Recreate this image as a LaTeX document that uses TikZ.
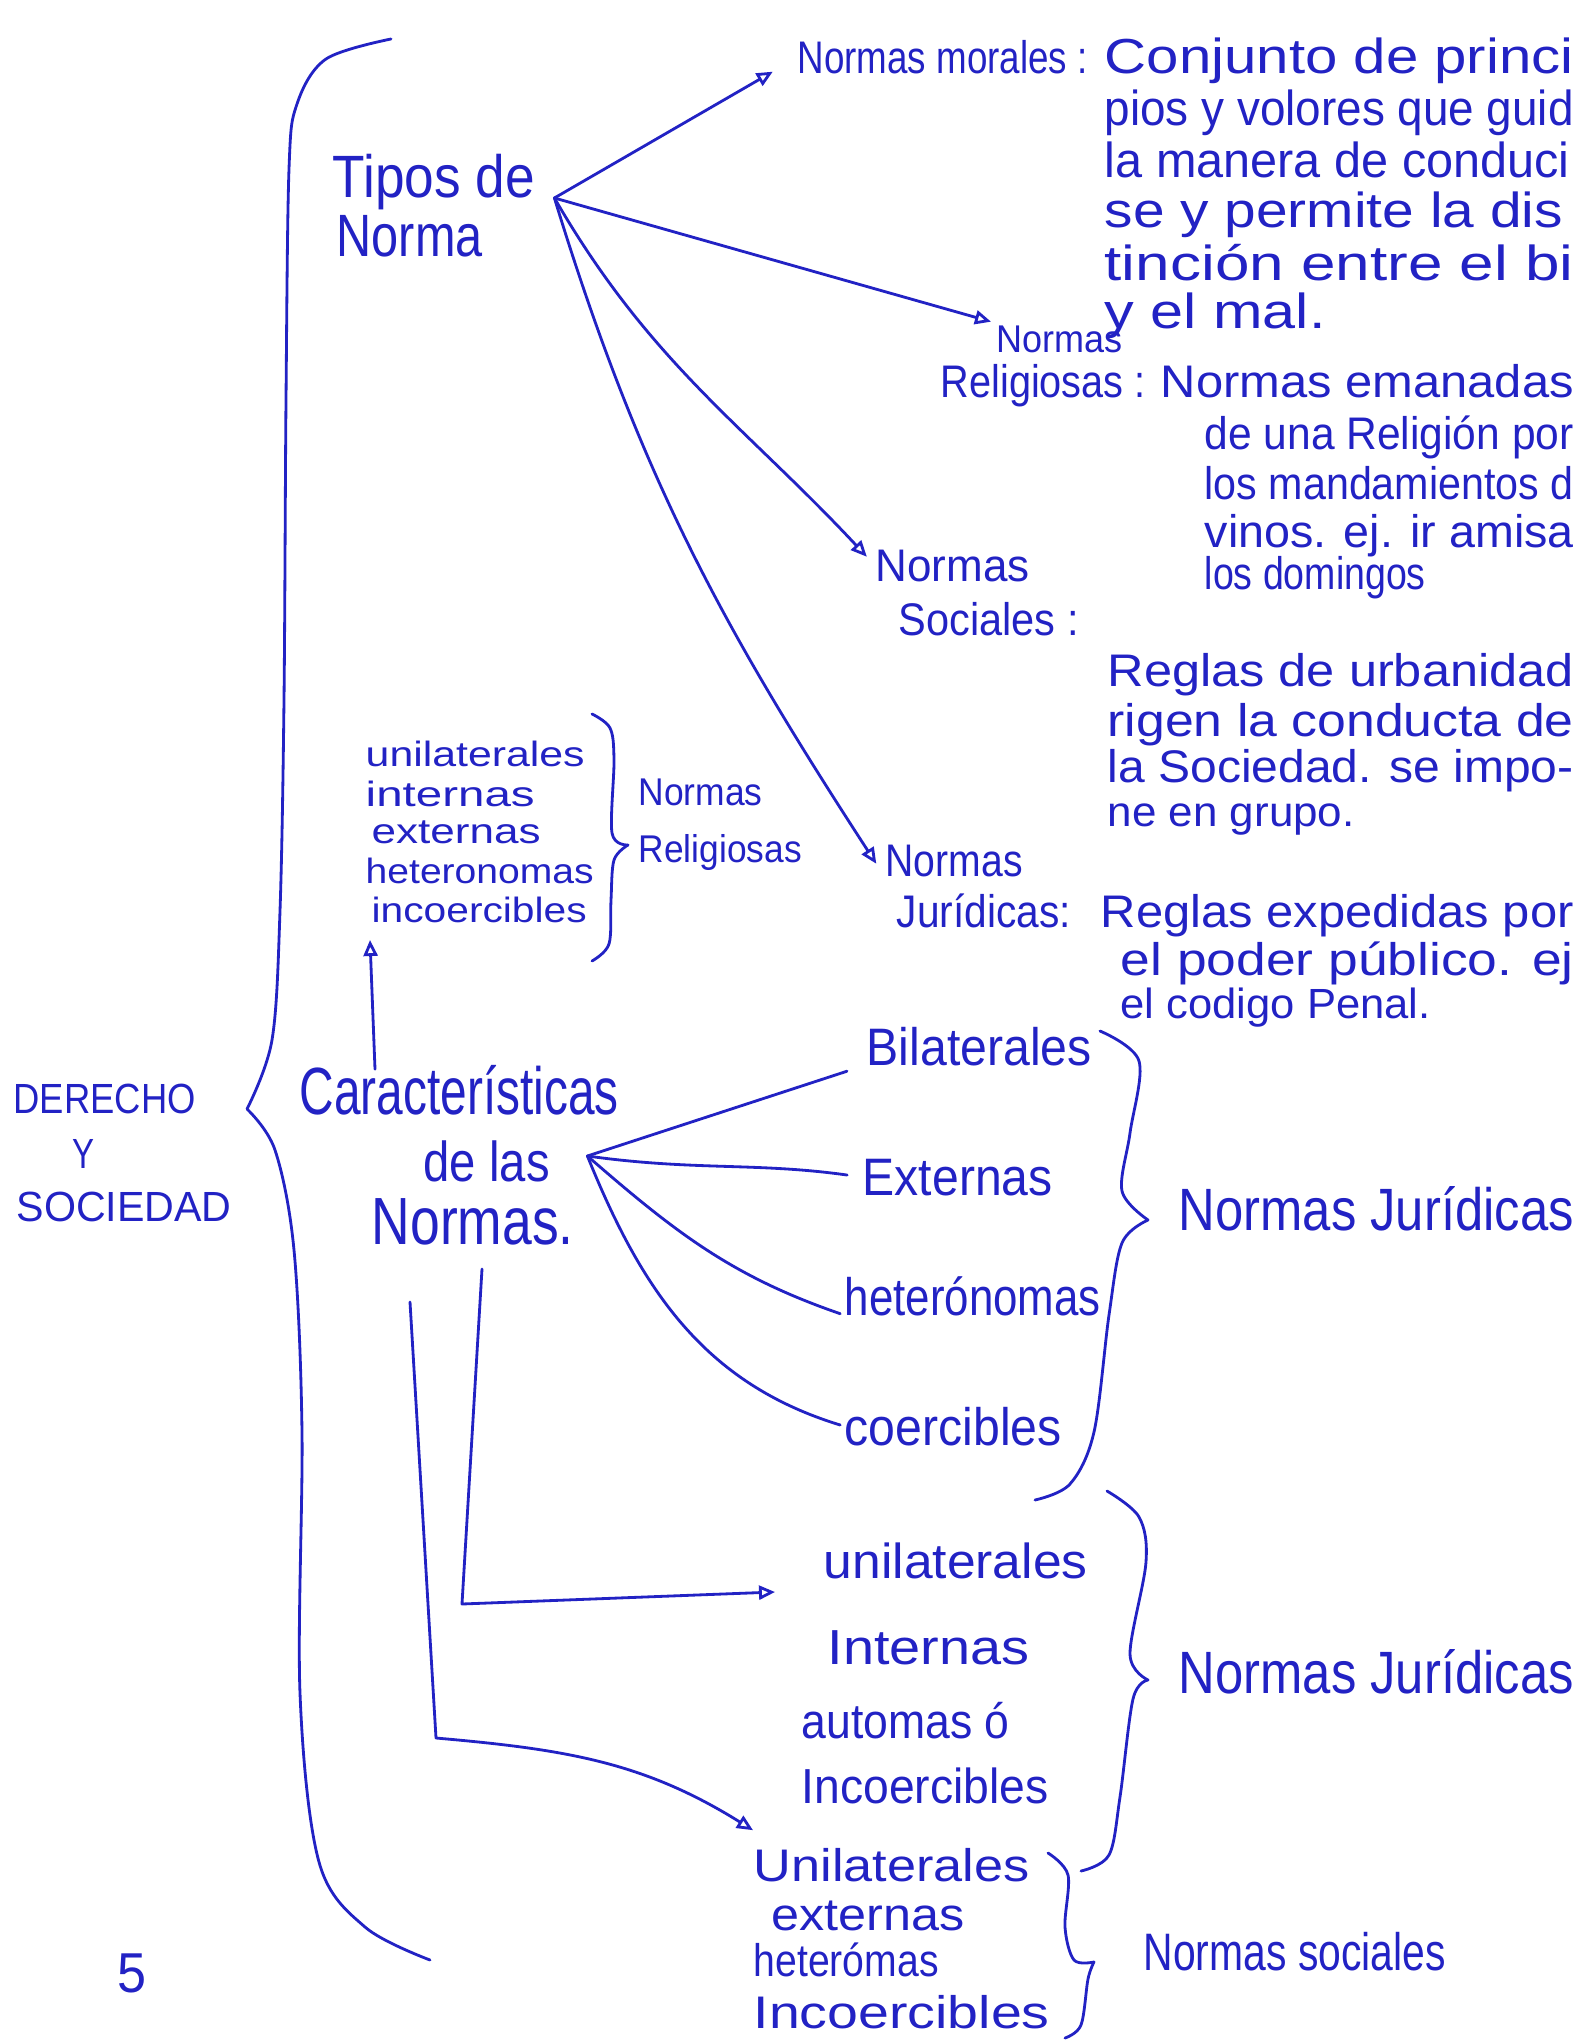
\documentclass[tikz,border=0pt]{standalone}
\usepackage{fontspec}
\setmainfont{Liberation Sans}
\usepackage{graphicx}
\usetikzlibrary{arrows.meta}
\definecolor{ink}{RGB}{34,34,196}
\newlength\pxu
\setlength\pxu{0.1mm}
\newcommand\hw[2]{\resizebox{#1\pxu}{\height}{#2}}
\newcommand\fsz[1]{\fontsize{#1}{#1}\selectfont}
\begin{document}
\begin{tikzpicture}[x=0.1mm,y=-0.1mm,
  t/.style={anchor=base west, inner sep=0pt, text=ink, font=\fsz{13}},
  ln/.style={draw=ink, line width=0.8pt, line cap=round, line join=round},
  arr/.style={ln, -{Triangle[open,length=1.6mm,width=1.4mm]}},
  brc/.style={ln, smooth, tension=0.55},
]
\fill[white] (0,0) rectangle (1573,2042);
\useasboundingbox (0,0) rectangle (1573,2042);

% title
\node[t,font=\fsz{12}] (d1) at (13,1113) {\hw{182}{DERECHO}};
\node[t,font=\fsz{12}] (d2) at (72,1168) {\hw{22}{Y}};
\node[t,font=\fsz{12}] (d3) at (16,1221) {\hw{215}{SOCIEDAD}};
\node[t,font=\fsz{16}] (five) at (117,1992) {\hw{29}{5}};

% big brace
\draw[brc] plot coordinates {(391,39) (326,59) (297,104) (289,169) (286,400) (284,700) (280,911) (272,1040) (247,1109)};
\draw[brc] plot coordinates {(247,1109) (275,1150) (294,1250) (302,1432) (300,1693) (319,1862) (365,1927) (430,1960)};

% Tipos de norma
\node[t,font=\fsz{17}] (tp1) at (332,198) {\hw{202}{Tipos de}};
\node[t,font=\fsz{17}] (tp2) at (336,256) {\hw{146}{Norma}};
\coordinate (th) at ([xshift=1.9mm]tp1.base east);

% morales
\node[t] (nm) at (797,74) {\hw{290}{Normas morales :}};
\node[t,font=\fsz{14}] (md1) at (1104,74) {\hw{469}{Conjunto de princi}};
\node[t,font=\fsz{14}] (md2) at (1104,126) {\hw{469}{pios y volores que guid}};
\node[t,font=\fsz{14}] (md3) at (1104,178) {\hw{465}{la manera de conduci}};
\node[t,font=\fsz{14}] (md4) at (1104,228) {\hw{458}{se y permite la dis}};
\node[t,font=\fsz{14}] (md5) at (1104,280) {\hw{469}{tinción entre el bi}};
\node[t,font=\fsz{14}] (md6) at (1104,328) {\hw{221}{y el mal.}};

% religiosas
\node[t,font=\fsz{11}] (nr1) at (996,352) {\hw{126}{Normas}};
\node[t] (nr2) at (940,397) {\hw{205}{Religiosas :}};
\node[t] (rd1) at (1160,397) {\hw{413}{Normas emanadas}};
\node[t] (rd2) at (1204,449) {\hw{369}{de una Religión por}};
\node[t] (rd3) at (1204,499) {\hw{369}{los mandamientos d}};
\node[t] (rd4) at (1204,547) {\hw{369}{vinos. ej. ir amisa}};
\node[t] (rd5) at (1204,589) {\hw{221}{los domingos}};

% sociales
\node[t] (ns1) at (875,581) {\hw{154}{Normas}};
\node[t] (ns2) at (898,635) {\hw{180}{Sociales :}};
\node[t] (sd1) at (1107,686) {\hw{466}{Reglas de urbanidad}};
\node[t] (sd2) at (1107,736) {\hw{466}{rigen la conducta de}};
\node[t] (sd3) at (1107,782) {\hw{466}{la Sociedad. se impo-}};
\node[t,font=\fsz{12}] (sd4) at (1107,826) {\hw{247}{ne en grupo.}};

% juridicas
\node[t] (nj1) at (885,876) {\hw{137}{Normas}};
\node[t] (nj2) at (896,927) {\hw{174}{Jurídicas:}};
\node[t] (jd1) at (1100,927) {\hw{473}{Reglas expedidas por}};
\node[t] (jd2) at (1120,975) {\hw{453}{el poder público. ej}};
\node[t,font=\fsz{12}] (jd3) at (1120,1018) {\hw{310}{el codigo Penal.}};

% connectors from Tipos de Norma
\draw[arr, shorten >=2.8mm] (th) -- (nm.west);
\draw[arr] (th) -- ([xshift=-0.5mm,yshift=0.3mm]nr1.north west);
\draw[arr, shorten >=1.2mm] (th) to[out=-60,in=133] (ns1.west);
\draw[arr, shorten >=1.6mm] (th) to[out=-73,in=123] (nj1.south west);

% religiosas characteristics
\node[t,font=\fsz{10}] (ri1) at (365,766) {\hw{219}{unilaterales}};
\node[t,font=\fsz{10}] (ri2) at (365,806) {\hw{169}{internas}};
\node[t,font=\fsz{10}] (ri3) at (371,843) {\hw{169}{externas}};
\node[t,font=\fsz{10}] (ri4) at (365,883) {\hw{228}{heteronomas}};
\node[t,font=\fsz{10}] (ri5) at (371,922) {\hw{215}{incoercibles}};
\node[t,font=\fsz{11}] (rn1) at (638,805) {\hw{124}{Normas}};
\node[t,font=\fsz{11}] (rn2) at (638,862) {\hw{163}{Religiosas}};
\draw[brc] plot coordinates {(592,714) (610,728) (614,760) (612,833) (628,845)};
\draw[brc] plot coordinates {(628,845) (614,860) (611,900) (609,944) (592,961)};

% Caracteristicas
\node[t,font=\fsz{19}] (ca1) at (299,1114) {\hw{319}{Características}};
\node[t,font=\fsz{16}] (ca2) at (423,1181) {\hw{126}{de las}};
\node[t,font=\fsz{19}] (ca3) at (371,1244) {\hw{202}{Normas.}};
\coordinate (ch) at ([xshift=3.7mm,yshift=2.5mm]ca2.base east);
\draw[arr] ([xshift=7.6mm,yshift=-0.5mm]ca1.north west) -- ([xshift=-0.1mm,yshift=-1.8mm]ri5.base west);

\node[t,font=\fsz{15}] (cb) at (866,1065) {\hw{225}{Bilaterales}};
\node[t,font=\fsz{15}] (ce) at (862,1195) {\hw{190}{Externas}};
\node[t,font=\fsz{15}] (cht) at (844,1315) {\hw{256}{heterónomas}};
\node[t,font=\fsz{15}] (cco) at (844,1445) {\hw{217}{coercibles}};
\draw[ln, shorten >=2mm] (ch) -- (cb.base west);
\draw[ln, shorten >=1.5mm] (ch) to[out=-8,in=172] (ce.west);
\draw[ln, shorten >=0.4mm] (ch) to[out=-41,in=161] (cht.base west);
\draw[ln, shorten >=0.4mm] (ch) to[out=-68,in=163] (cco.west);

\node[t,font=\fsz{17}] (nj3) at (1178,1230) {\hw{395}{Normas Jurídicas}};
\draw[brc] plot coordinates {(1100,1031) (1139,1061) (1130,1133) (1122,1191) (1148,1220)};
\draw[brc] plot coordinates {(1148,1220) (1122,1243) (1109,1315) (1094,1432) (1070,1484) (1035,1500)};

% lower groups
\node[t,font=\fsz{14}] (u1) at (823,1578) {\hw{264}{unilaterales}};
\node[t,font=\fsz{14}] (u2) at (827,1664) {\hw{202}{Internas}};
\node[t,font=\fsz{14}] (u3) at (801,1738) {\hw{208}{automas ó}};
\node[t,font=\fsz{14}] (u4) at (801,1803) {\hw{247}{Incoercibles}};
\node[t,font=\fsz{17}] (nj4) at (1178,1693) {\hw{395}{Normas Jurídicas}};
\draw[brc] plot coordinates {(1107,1491) (1139,1517) (1146,1562) (1130,1654) (1148,1680)};
\draw[brc] plot coordinates {(1148,1680) (1133,1699) (1120,1797) (1109,1855) (1081,1871)};

\node[t,font=\fsz{13}] (s1) at (753,1881) {\hw{276}{Unilaterales}};
\node[t,font=\fsz{13}] (s2) at (771,1930) {\hw{193}{externas}};
\node[t,font=\fsz{13}] (s3) at (753,1976) {\hw{185}{heterómas}};
\node[t,font=\fsz{13}] (s4) at (753,2028) {\hw{296}{Incoercibles}};
\node[t,font=\fsz{15}] (nsoc) at (1143,1970) {\hw{302}{Normas sociales}};
\draw[brc] plot coordinates {(1048,1853) (1068,1875) (1065,1927) (1074,1960) (1094,1962)};
\draw[brc] plot coordinates {(1094,1962) (1088,1979) (1081,2025) (1065,2038)};

% lines from Caracteristicas
\coordinate (e1) at (462,1604);
\coordinate (e2) at (436,1738);
\draw[arr] ([xshift=11.1mm,yshift=-2.5mm]ca3.base west) -- (e1) -- ([xshift=-4.8mm,yshift=-1.4mm]u1.base west);
\draw[arr] ([xshift=3.9mm,yshift=-5.8mm]ca3.base west) -- (e2) to[out=-5,in=148] ([yshift=1.7mm]s1.north west);
\end{tikzpicture}
\end{document}
